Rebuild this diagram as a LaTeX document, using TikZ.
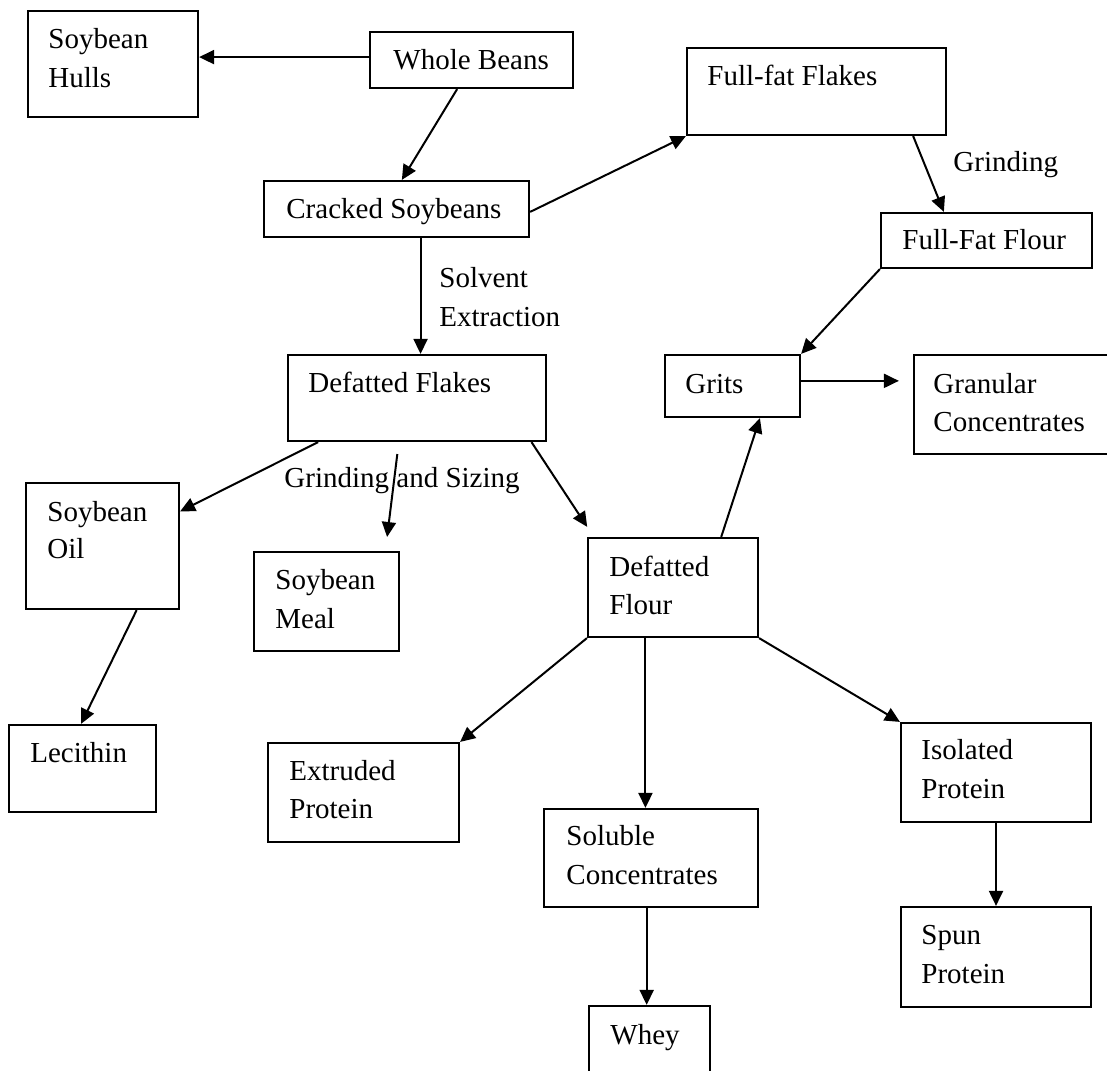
\documentclass[tikz,border=0pt]{standalone}
\usepackage{fontspec}
\setmainfont{Liberation Serif}
\usetikzlibrary{arrows.meta,calc,fit}
\begin{document}
\begin{tikzpicture}[x=0.5pt,y=-0.5pt,
  box/.style={draw, line width=1.1pt, inner sep=0pt},
  txt/.style={anchor=west, inner sep=0pt, text height=9.6pt, text depth=0pt, font=\fontsize{14.5}{17}\selectfont},
  arr/.style={line width=1pt, -{Triangle[length=7.5pt,width=7pt]}}]
\useasboundingbox (0,0) rectangle (1107,1070);
\fill[white] (0,0) rectangle (1107,1070);

% boxes
\node[box, fit={(28,11) (198,117)}] (hulls) {};
\node[box, fit={(370,32) (573,88)}] (wb) {};
\node[box, fit={(687,48) (946,135)}] (flakes) {};
\node[box, fit={(264,181) (529,237)}] (cracked) {};
\node[box, fit={(881,213) (1092,268)}] (flour) {};
\node[box, fit={(288,355) (546,441)}] (dflakes) {};
\node[box, fit={(665,355) (800,417)}] (grits) {};
\node[box, fit={(914,355) (1125,454)}] (gran) {};
\node[box, fit={(26,483) (179,609)}] (oil) {};
\node[box, fit={(254,552) (399,651)}] (meal) {};
\node[box, fit={(588,538) (758,637)}] (dflour) {};
\node[box, fit={(9,725) (156,812)}] (lec) {};
\node[box, fit={(268,743) (459,842)}] (extr) {};
\node[box, fit={(901,723) (1091,822)}] (iso) {};
\node[box, fit={(544,809) (758,907)}] (sol) {};
\node[box, fit={(901,907) (1091,1007)}] (spun) {};
\node[box, fit={(589,1006) (710,1095)}] (whey) {};

% texts
\node[txt] (t-hulls1) at (48,39) {Soybean};
\node[txt] (t-hulls2) at (48,78) {Hulls};
\node[txt] (t-wb) at (393,60) {Whole Beans};
\node[txt] (t-cracked) at (286,209) {Cracked Soybeans};
\node[txt] (t-flakes) at (707,76) {Full-fat Flakes};
\node[txt] (t-grinding) at (953,162) {Grinding};
\node[txt] (t-flour) at (902,240) {Full-Fat Flour};
\node[txt] (t-solvent) at (439,278) {Solvent};
\node[txt] (t-extraction) at (439,317) {Extraction};
\node[txt] (t-dflakes) at (308,383) {Defatted Flakes};
\node[txt] (t-gs) at (284,478) {Grinding and Sizing};
\node[txt] (t-oil1) at (47,512) {Soybean};
\node[txt] (t-oil2) at (47,549) {Oil};
\node[txt] (t-meal1) at (275,580) {Soybean};
\node[txt] (t-meal2) at (275,619) {Meal};
\node[txt] (t-grits) at (685,384) {Grits};
\node[txt] (t-gran1) at (933,384) {Granular};
\node[txt] (t-gran2) at (933,422) {Concentrates};
\node[txt] (t-dflour1) at (609,567) {Defatted};
\node[txt] (t-dflour2) at (609,605) {Flour};
\node[txt] (t-lec) at (30,753) {Lecithin};
\node[txt] (t-extr1) at (289,771) {Extruded};
\node[txt] (t-extr2) at (289,809) {Protein};
\node[txt] (t-iso1) at (921,750) {Isolated};
\node[txt] (t-iso2) at (921,789) {Protein};
\node[txt] (t-sol1) at (566,836) {Soluble};
\node[txt] (t-sol2) at (566,875) {Concentrates};
\node[txt] (t-spun1) at (921,935) {Spun};
\node[txt] (t-spun2) at (921,974) {Protein};
\node[txt] (t-whey) at (610,1035) {Whey};

% connectors
\draw[arr] ($(wb.north west)!0.45!(wb.south west)$) coordinate (a1) -- (a1 -| hulls.east);
\draw[arr] ($(wb.south west)!0.43!(wb.south east)$) -- ($(cracked.north west)!0.52!(cracked.north east)$);
\draw[arr] ($(cracked.north east)!0.55!(cracked.south east)$) -- (flakes.south west);
\draw[arr] ($(flakes.south west)!0.87!(flakes.south east)$) -- ($(flour.north west)!0.30!(flour.north east)$);
\draw[arr] (flour.south west) -- (grits.north east);
\draw[arr] ($(cracked.south west)!0.59!(cracked.south east)$) coordinate (a6) -- (a6 |- dflakes.north);
\draw[arr] ($(dflakes.south west)!0.12!(dflakes.south east)$) -- ($(oil.north east)!0.23!(oil.south east)$);
\draw[arr, shorten <=6pt, shorten >=7pt] ($(dflakes.south west)!0.43!(dflakes.south east)$) -- ($(meal.north west)!0.90!(meal.north east)$);
\draw[arr, shorten >=6pt] ($(dflakes.south west)!0.94!(dflakes.south east)$) -- ($(dflour.north west)!0.04!(dflour.north east)$);
\draw[arr] ($(dflour.north west)!0.78!(dflour.north east)$) -- ($(grits.south west)!0.70!(grits.south east)$);
\draw[arr, shorten >=7pt] ($(grits.north east)!0.42!(grits.south east)$) coordinate (a11) -- (a11 -| gran.west);
\draw[arr] ($(oil.south west)!0.72!(oil.south east)$) -- ($(lec.north west)!0.49!(lec.north east)$);
\draw[arr] (dflour.south west) -- (extr.north east);
\draw[arr] ($(dflour.south west)!0.34!(dflour.south east)$) coordinate (a14) -- (a14 |- sol.north);
\draw[arr] (dflour.south east) -- (iso.north west);
\draw[arr] ($(iso.south west)!0.5!(iso.south east)$) coordinate (a16) -- (a16 |- spun.north);
\draw[arr] ($(sol.south west)!0.48!(sol.south east)$) coordinate (a17) -- (a17 |- whey.north);
\end{tikzpicture}
\end{document}
